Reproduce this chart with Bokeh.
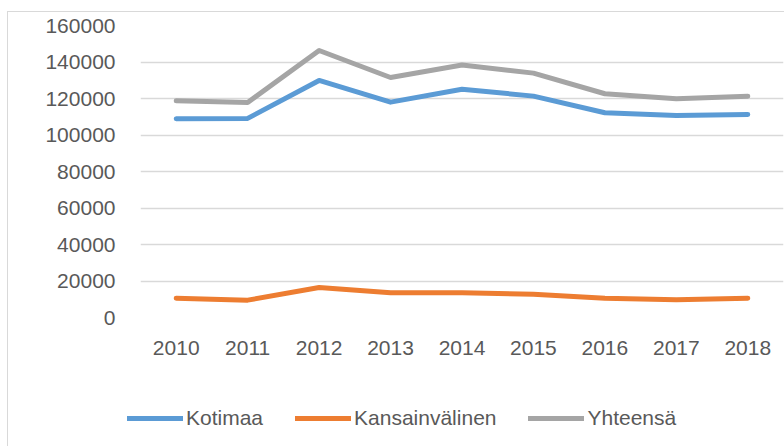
from bokeh.plotting import figure
from bokeh.layouts import column
from bokeh.models import Range1d, FactorRange, Legend, LegendItem, SingleIntervalTicker, NumeralTickFormatter
from bokeh.embed import file_html
from bokeh.resources import INLINE

years = ["2010", "2011", "2012", "2013", "2014", "2015", "2016", "2017", "2018"]
kotimaa = [108900, 109100, 129900, 118000, 125100, 121300, 112200, 110700, 111200]
kansainvalinen = [10600, 9500, 16400, 13500, 13500, 12800, 10600, 9700, 10600]
yhteensa = [118700, 117800, 146300, 131500, 138400, 133900, 122600, 119800, 121300]
series_names = ["Kotimaa", "Kansainvälinen", "Yhteensä"]
colors = ["#5b9bd5", "#ed7d31", "#a5a5a5"]

FONT = "Liberation Sans"
TXT = "#595959"
BORDER = "1.5px solid #d9d9d9"

# main chart: occupies page y 11..391, x 7..784
p = figure(width=777, height=380, x_range=FactorRange(*years), y_range=Range1d(0, 160000),
           output_backend="svg", toolbar_location=None,
           min_border_left=132, min_border_right=2, min_border_top=13, min_border_bottom=75)
p.margin = (11, 0, 0, 7)
p.styles = {"border-left": BORDER, "border-top": BORDER}
p.frame_align = False
p.outline_line_color = None
p.background_fill_color = "white"
p.border_fill_color = "white"

p.yaxis.ticker = SingleIntervalTicker(interval=20000)
p.yaxis.formatter = NumeralTickFormatter(format="0")
for ax in [p.xaxis[0], p.yaxis[0]]:
    ax.axis_line_color = None
    ax.major_tick_line_color = None
    ax.minor_tick_line_color = None
    ax.major_label_text_font = FONT
    ax.major_label_text_font_size = "21px"
    ax.major_label_text_color = TXT
p.yaxis.major_label_standoff = 19
p.xaxis.major_label_standoff = 17
p.xgrid.grid_line_color = None
p.ygrid.grid_line_color = "#d9d9d9"
p.ygrid.grid_line_width = 1.5

for vals, c in zip([kotimaa, kansainvalinen, yhteensa], colors):
    p.line(years, vals, line_color=c, line_width=5, line_cap="round", line_join="round")

# legend strip below the chart
q = figure(width=777, height=55, x_range=Range1d(0, 1), y_range=Range1d(0, 1),
           output_backend="svg", toolbar_location=None,
           min_border_left=0, min_border_right=0, min_border_top=0, min_border_bottom=0)
q.margin = (0, 0, 0, 7)
q.styles = {"border-left": BORDER}
q.frame_align = False
q.axis.visible = False
q.grid.visible = False
q.outline_line_color = None
q.background_fill_color = "white"
q.border_fill_color = "white"

leg_renderers = []
for c in colors:
    # placeholder renderers kept outside the visible range; they only provide legend swatches
    r = q.line(x=[5, 6], y=[5, 6], line_color=c, line_width=5, line_cap="round")
    leg_renderers.append(r)

legend = Legend(items=[LegendItem(label=n, renderers=[r]) for n, r in zip(series_names, leg_renderers)],
                orientation="horizontal", location=(119, 16),
                label_text_font=FONT, label_text_font_size="21px", label_text_color=TXT,
                glyph_width=56, glyph_height=24, label_standoff=3, spacing=32,
                border_line_color=None, background_fill_alpha=0, margin=0, padding=0)
q.add_layout(legend, "center")

layout = column(p, q, spacing=0)
open("out.html", "w").write(file_html(layout, INLINE))
